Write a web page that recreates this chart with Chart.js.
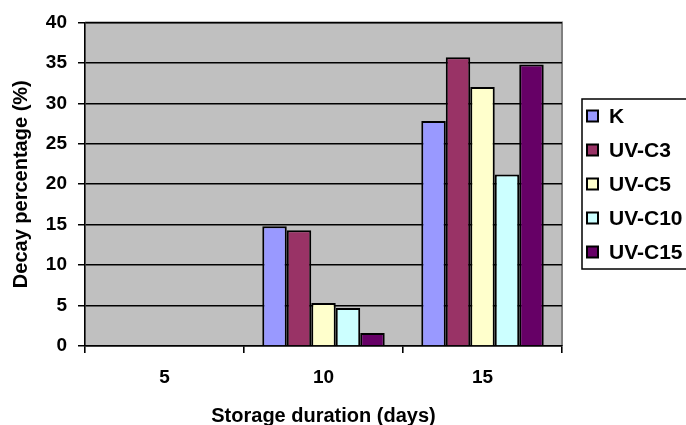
<!DOCTYPE html>
<html>
<head>
<meta charset="utf-8">
<script src="https://cdn.jsdelivr.net/npm/chart.js@4.4.1/dist/chart.umd.min.js"></script>
<style>
  html, body { margin: 0; padding: 0; background: #fff; }
  #wrap { width: 686px; height: 425px; position: relative; }
</style>
</head>
<body>
<div id="wrap"><canvas id="chart"></canvas></div>
<script>
const days = ['5', '10', '15'];
const seriesNames = ['K', 'UV-C3', 'UV-C5', 'UV-C10', 'UV-C15'];
const kValues = [0, 14.8, 27.8];
const uvc3Values = [0, 14.3, 35.7];
const uvc5Values = [0, 5.3, 32.0];
const uvc10Values = [0, 4.7, 21.2];
const uvc15Values = [0, 1.6, 34.8];
const yTicks = [0, 5, 10, 15, 20, 25, 30, 35, 40];

const colors = ['#9999FF', '#993366', '#FFFFCC', '#CCFFFF', '#660066'];
const allValues = [kValues, uvc3Values, uvc5Values, uvc10Values, uvc15Values];
const fontFamily = 'Arial, "Liberation Sans", sans-serif';

// grey plot area with darker top/right edge
const plotBackground = {
    id: 'plotBackground',
    beforeDraw(chart) {
        const { ctx, chartArea: a } = chart;
        ctx.save();
        ctx.fillStyle = '#C0C0C0';
        ctx.fillRect(a.left, a.top, a.right - a.left, a.bottom - a.top);
        ctx.strokeStyle = '#808080';
        ctx.lineWidth = 2;
        ctx.beginPath();
        ctx.moveTo(a.left, a.top);
        ctx.lineTo(a.right, a.top);
        ctx.lineTo(a.right, a.bottom);
        ctx.stroke();
        ctx.restore();
    }
};

// boxed legend on the right
const boxLegend = {
    id: 'boxLegend',
    afterDraw(chart) {
        const ctx = chart.ctx;
        const left = 582, top = 99, bottom = 269;
        ctx.save();
        ctx.strokeStyle = '#000';
        ctx.lineWidth = 1.5;
        ctx.strokeRect(left, top, 120, bottom - top);
        ctx.font = 'bold 21px ' + fontFamily;
        ctx.textBaseline = 'middle';
        ctx.textAlign = 'left';
        chart.data.datasets.forEach((ds, i) => {
            const y = 116 + i * 34;
            ctx.fillStyle = ds.backgroundColor;
            ctx.fillRect(587, y - 5.5, 11, 11);
            ctx.strokeStyle = '#000';
            ctx.lineWidth = 2;
            ctx.strokeRect(587, y - 5.5, 11, 11);
            ctx.fillStyle = '#000';
            ctx.fillText(ds.label, 609, y + 1);
        });
        ctx.restore();
    }
};

new Chart(document.getElementById('chart'), {
    type: 'bar',
    data: {
        labels: days,
        datasets: seriesNames.map((name, i) => ({
            label: name,
            data: allValues[i],
            backgroundColor: colors[i],
            borderColor: '#000',
            borderWidth: ctx => (ctx.raw === 0 ? 0 : 2),
            barPercentage: 1,
            categoryPercentage: 0.77
        }))
    },
    options: {
        responsive: true,
        maintainAspectRatio: false,
        animation: false,
        layout: { padding: { top: 22, right: 124, left: 0, bottom: 0 } },
        plugins: {
            legend: { display: false },
            tooltip: { enabled: false }
        },
        scales: {
            x: {
                afterFit: scale => { scale.height = 79; },
                grid: {
                    display: true,
                    drawOnChartArea: false,
                    offset: true,
                    color: '#000',
                    lineWidth: 1.6,
                    tickLength: 7
                },
                border: { color: '#000', width: 1.6 },
                ticks: {
                    color: '#000',
                    padding: 13,
                    font: { family: fontFamily, size: 19, weight: 'bold' }
                },
                title: {
                    display: true,
                    text: 'Storage duration (days)',
                    color: '#000',
                    padding: { top: 0, bottom: -3 },
                    font: { family: fontFamily, size: 20, weight: 'bold' }
                }
            },
            y: {
                min: 0,
                max: 40,
                afterFit: scale => { scale.width = 85; },
                afterBuildTicks: scale => { scale.ticks = yTicks.map(v => ({ value: v })); },
                grid: {
                    color: '#000',
                    lineWidth: 1.5,
                    tickLength: 7
                },
                border: { color: '#000', width: 1.6 },
                ticks: {
                    color: '#000',
                    padding: 11,
                    font: { family: fontFamily, size: 19, weight: 'bold' }
                },
                title: {
                    display: true,
                    text: 'Decay percentage (%)',
                    color: '#000',
                    padding: { top: 9, bottom: 0 },
                    font: { family: fontFamily, size: 20, weight: 'bold' }
                }
            }
        }
    },
    plugins: [plotBackground, boxLegend]
});
</script>
</body>
</html>
